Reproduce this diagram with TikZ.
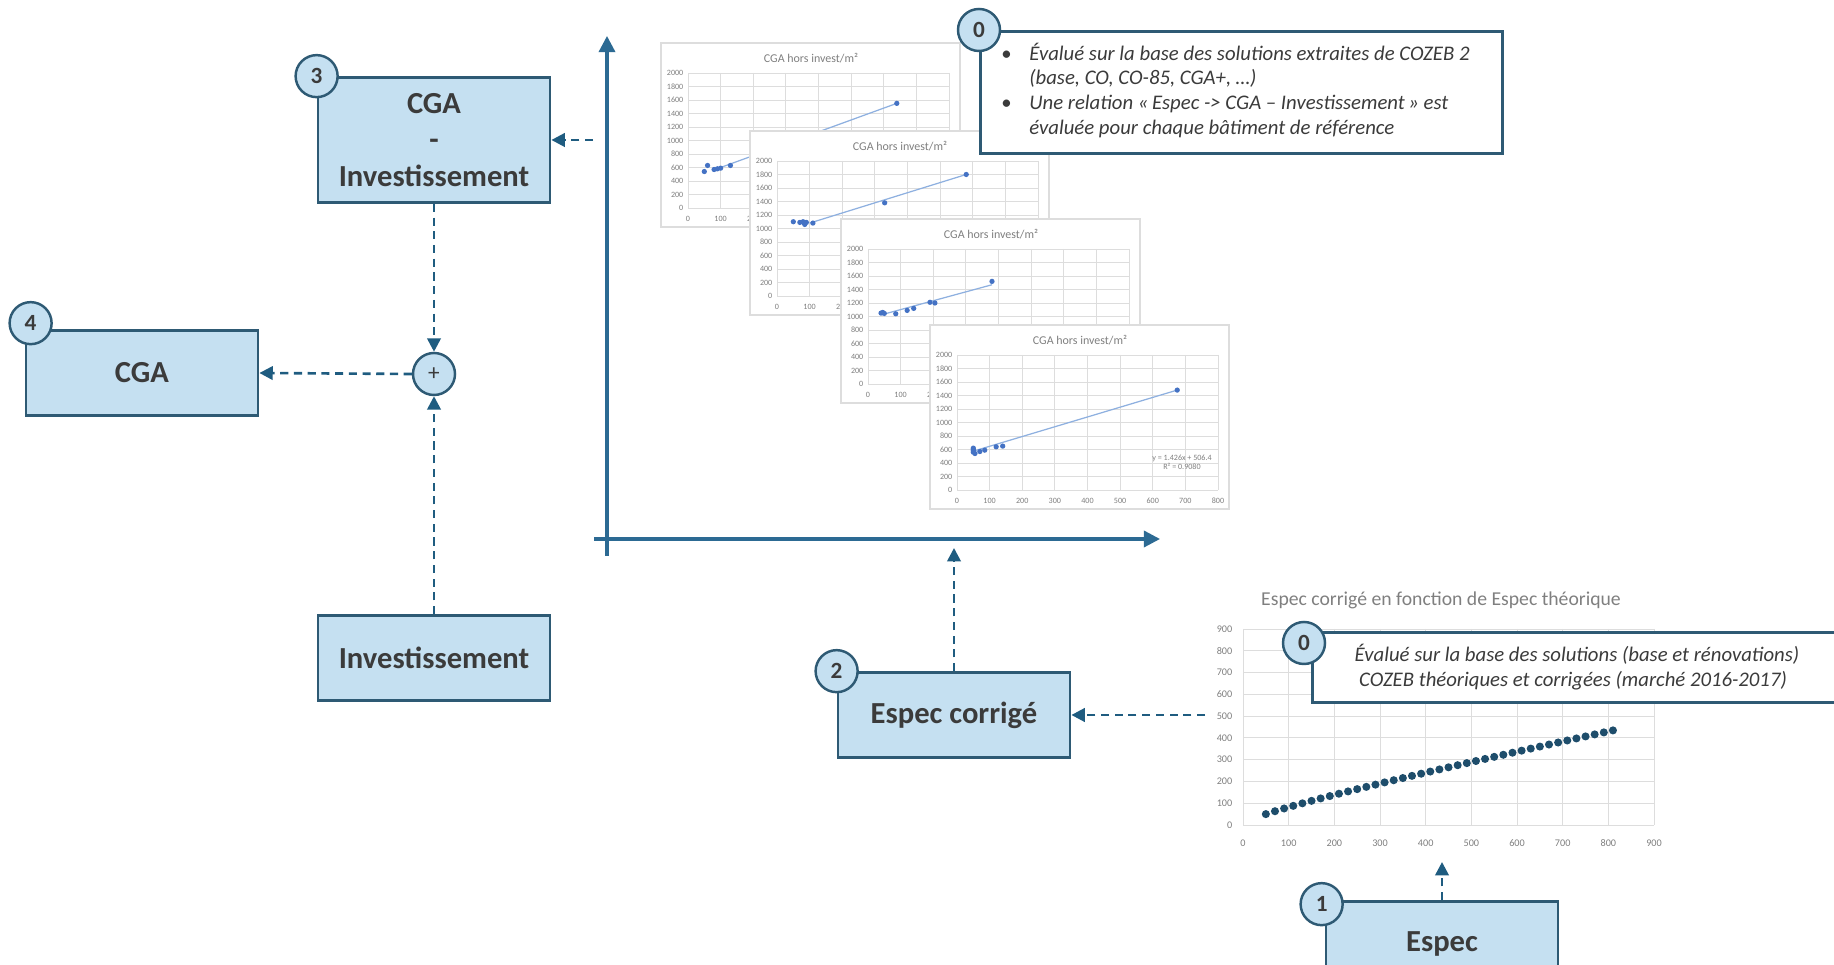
\documentclass[tikz,border=0pt]{standalone}
\usepackage{fontspec}
\setmainfont{Carlito}
\usetikzlibrary{positioning,arrows.meta,calc}

\definecolor{bleuclair}{HTML}{C5E0F1}
\definecolor{bordure}{HTML}{2E5A74}
\definecolor{fleche}{HTML}{1F5C80}
\definecolor{axecol}{HTML}{2C6A93}
\definecolor{texte}{HTML}{3B3B3B}
\definecolor{grillecol}{HTML}{DDDDDD}
\definecolor{pointcol}{HTML}{4472C4}
\definecolor{tendcol}{HTML}{8EB0E0}
\definecolor{pointfonce}{HTML}{1E4D6B}
\definecolor{gristitre}{HTML}{7F7F7F}

\begin{document}
\begin{tikzpicture}[x=0.01cm, y=-0.01cm,
  font=\fontsize{8.7}{10.4}\selectfont,
  boite/.style={draw=bordure, fill=bleuclair, line width=0.75pt, align=center,
    minimum width=2.32cm, minimum height=0.85cm, inner sep=2pt,
    text=texte, font=\fontsize{8.7}{10.4}\selectfont\bfseries},
  pastille/.style={circle, draw=bordure, fill=bleuclair, line width=0.7pt,
    minimum size=0.42cm, inner sep=0pt, text=texte,
    font=\fontsize{6.6}{8}\selectfont\bfseries},
  somme/.style={circle, draw=bordure, fill=bleuclair, line width=0.7pt,
    minimum size=0.42cm, inner sep=0pt, text=texte, font=\fontsize{6.6}{8}\selectfont},
  bulle/.style={draw=bordure, fill=white, line width=0.75pt, text=texte,
    font=\fontsize{5.9}{7}\selectfont\itshape},
  lien/.style={draw=fleche, line width=0.75pt, dash pattern=on 2.3pt off 1.6pt,
    -{Triangle[length=3.8pt, width=3.8pt]}},
  axe/.style={draw=axecol, line width=0.9pt, -{Triangle[length=4.6pt, width=4.6pt]}},
  cadre/.style={draw=grillecol, fill=white, line width=0.3pt},
  grille/.style={draw=grillecol, line width=0.25pt},
  graduation/.style={text=gristitre, inner sep=0pt, font=\fontsize{2.3}{2.6}\selectfont},
  titrecarte/.style={text=gray, inner sep=0pt, font=\fontsize{3.4}{4}\selectfont},
  tendance/.style={draw=tendcol, line width=0.35pt},
  pt/.style={fill=pointcol}]
\clip (0,0) rectangle (1834,965);

% Les quatre cartes empilees
\foreach \ox/\oy/\pts/\ta/\tb/\tc/\td in {
    661/43/{50/540,60/630,80/570,90/580,100/590,130/630,640/1550}/100/600/640/1550,
    750/131/{50/1100,70/1090,80/1100,85/1060,90/1090,110/1080,330/1380,580/1800}/100/1080/580/1800,
    841/219/{40/1050,45/1060,50/1045,85/1040,120/1090,140/1120,190/1210,205/1200,380/1520}/45/1030/380/1470,
    930/325/{50/560,50/600,50/620,50/580,55/540,70/570,85/590,120/640,140/650,675/1480}/50/575/675/1480}{
  \begin{scope}[shift={(\ox,\oy)}]
    \draw[cadre] (0,0) rectangle (299,184);
    \node[titrecarte] at (150,15) {CGA hors invest/m²};
    \foreach \v in {0,200,...,2000}
      \draw[grille] (27,{165-0.0675*\v}) -- (288,{165-0.0675*\v});
    \foreach \v in {0,100,...,800}
      \draw[grille] ({27+0.32625*\v},30) -- ({27+0.32625*\v},165);
    \foreach \v in {0,200,...,2000}
      \node[graduation, anchor=east] at (23,{165-0.0675*\v}) {\v};
    \foreach \v in {0,100,...,800}
      \node[graduation] at ({27+0.32625*\v},176) {\v};
    \draw[tendance] ({27+0.32625*\ta},{165-0.0675*\tb}) -- ({27+0.32625*\tc},{165-0.0675*\td});
    \foreach \a/\b in \pts
      \fill[pt] ({27+0.32625*\a},{165-0.0675*\b}) circle[radius=0.75pt];
  \end{scope}}
\node[graduation, align=center, text=gray] (equation) at (1182,462)
  {y = 1.426x + 506.4\\R² = 0.9080};

% Axes du graphe
\coordinate (ybas) at (607,556);
\coordinate (yhaut) at (607,36);
\coordinate (xgauche) at (594,539);
\coordinate (xdroite) at (1160,539);
\draw[axe] (ybas) -- (yhaut);
\draw[axe] (xgauche) -- (xdroite);

% Courbe Espec corrige / Espec theorique
\node[text=gristitre, font=\fontsize{5.6}{7}\selectfont] (titrecourbe) at (1441,600)
  {Espec corrigé en fonction de Espec théorique};
\foreach \v in {0,100,...,900}
  \draw[grille] (1243,{825-0.2178*\v}) -- (1654,{825-0.2178*\v});
\foreach \v in {0,100,...,900}
  \draw[grille] ({1243+0.4567*\v},629) -- ({1243+0.4567*\v},825);
\foreach \v in {0,100,...,900}
  \node[graduation, anchor=east, font=\fontsize{2.9}{3.2}\selectfont] at (1233,{825-0.2178*\v}) {\v};
\foreach \v in {0,100,...,900}
  \node[graduation, font=\fontsize{2.9}{3.2}\selectfont] at ({1243+0.4567*\v},843) {\v};
\foreach \a in {50,70,...,810}
  \fill[pointfonce] ({1243+0.4567*\a},{825-0.2178*(0.383*\a+4.36*sqrt(\a))}) circle[radius=1.15pt];

% Notes
\node[bulle, anchor=north west, minimum width=5.22cm, minimum height=1.21cm, inner xsep=0pt] (note1) at (979,30)
  {\begin{tabular}{@{}p{0.28cm}@{}l@{\hspace{0.12cm}}}
   \upshape\textbullet & Évalué sur la base des solutions extraites de COZEB 2\\
   & (base, CO, CO-85, CGA+, …)\\
   \upshape\textbullet & Une relation «\,Espec -> CGA – Investissement\,» est\\
   & évaluée pour chaque bâtiment de référence
   \end{tabular}};
\node[pastille] (p0a) at (note1.north west) {0};
\node[bulle, anchor=north west, minimum width=5.29cm, minimum height=0.70cm, align=center] (note2) at (1311,631)
  {Évalué sur la base des solutions (base et rénovations)\\COZEB théoriques et corrigées (marché 2016-2017)\hspace*{0.08cm}};
\node[pastille] (p0b) at ($(note2.north west)+(-7,12)$) {0};

% Blocs
\node[boite, minimum height=1.25cm] (cgainv) at (434,140) {CGA\\-\\Investissement};
\node[boite] (cga) at (142,373) {CGA};
\node[somme] (plus) at (434,374) {+};
\node[boite] (inv) at (434,658) {Investissement};
\node[boite] (especc) at (954,715) {Espec corrigé};
\node[boite] (espec) at (1442,944) {Espec};
\node[pastille] (p3) at (cgainv.north west) {3};
\node[pastille] (p4) at ($(cga.north west)+(6,-6)$) {4};
\node[pastille] (p2) at (especc.north west) {2};
\node[pastille] (p1) at ($(espec.north west)+(-3,4)$) {1};

% Liens
\coordinate (depart3) at (593,140);
\coordinate (cibleaxe) at (954,548);
\coordinate (depart2) at (1205,715);
\coordinate (ciblecourbe) at (1442,862);
\draw[lien] (depart3) -- (cgainv.east);
\draw[lien] (cgainv.south) -- (plus.north);
\draw[lien] (inv.north) -- (plus.south);
\draw[lien] (plus.west) -- (cga.east);
\draw[lien] (especc.north) -- (cibleaxe);
\draw[lien] (depart2) -- (especc.east);
\draw[lien] (espec.north) -- (ciblecourbe);
\end{tikzpicture}
\end{document}
